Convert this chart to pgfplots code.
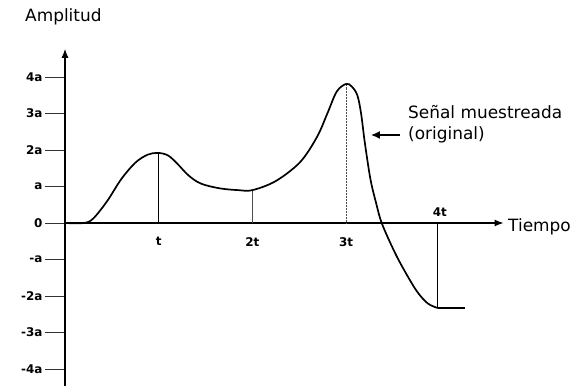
\documentclass[border=0pt]{standalone}
\usepackage{pgfplots}
\pgfplotsset{compat=1.18}
\usepackage{fontspec}
\setmainfont{DejaVu Sans}
\usetikzlibrary{arrows.meta}

\begin{document}
\begin{tikzpicture}
\useasboundingbox (-65bp,-166bp) rectangle (517bp,223bp);
\begin{axis}[
  anchor=origin, at={(0,0)},
  scale only axis, width=438.5bp, height=337.3bp,
  xmin=0, xmax=4.68, ymin=-4.47, ymax=4.77,
  axis lines=middle,
  axis line style={line width=1.1pt, -{Latex[length=9pt,width=7pt]}},
  hide obscured x ticks=false, hide obscured y ticks=false,
  ytick={-4,-3,-2,-1,0,1,2,3,4},
  yticklabels={-4a,-3a,-2a,-a,0,a,2a,3a,4a},
  xtick={1,2,3},
  xticklabels={t,2t,3t},
  extra x ticks={4}, extra x tick labels={4t},
  extra x tick style={xticklabel style={anchor=south, yshift=14bp}},
  tick align=outside, major tick length=20bp,
  xtick style={draw=none},
  ytick style={line width=0.9pt, black!80},
  ticklabel style={font=\bfseries\fontsize{12}{14}\selectfont},
  yticklabel style={xshift=1bp},
  xticklabel style={yshift=9bp},
  clip=false,
]
% signal samples
\addplot[black, line width=1pt] coordinates {(1,0) (1,1.92)};
\addplot[black!70, line width=0.5pt] coordinates {(2,0) (2,0.9)};
\addplot[black!70, line width=0.5pt, densely dotted] coordinates {(3,0) (3,3.81)};
\addplot[black, line width=1pt] coordinates {(3.98,0) (3.98,-2.33)};
% original signal
\addplot[black, line width=1.7pt, smooth, tension=0.55] coordinates {
(0,0) (0.2,0) (0.3,0.12) (0.45,0.6) (0.6,1.2) (0.75,1.65) (0.88,1.87) (0.99,1.92)
(1.1,1.85) (1.2,1.62) (1.32,1.3) (1.45,1.08) (1.65,0.95) (1.85,0.9) (2.0,0.9)
(2.25,1.15) (2.51,1.67) (2.69,2.36) (2.8,3.0) (2.9,3.6) (3.0,3.81)
(3.06,3.74) (3.12,3.5) (3.16,3.0) (3.2,2.2) (3.26,1.2) (3.32,0.55) (3.38,0)
(3.5,-0.7) (3.6,-1.2) (3.75,-1.85) (3.87,-2.2) (3.98,-2.33)
};
\addplot[black, line width=1.7pt] coordinates {(3.98,-2.33) (4.27,-2.33)};
\end{axis}
\node[anchor=west, font=\fontsize{17}{20}\selectfont, inner sep=0] at (-40bp,206bp) {Amplitud};
\node[anchor=west, font=\fontsize{17}{20}\selectfont, inner sep=0] at (443bp,-4bp) {Tiempo};
\node[anchor=west, align=left, font=\fontsize{17}{21}\selectfont, inner sep=0] at (343bp,99bp) {Señal muestreada\\(original)};
\draw[line width=1.3pt, -{Latex[length=9pt,width=8pt]}] (335bp,88bp) -- (306bp,88bp);
\end{tikzpicture}
\end{document}
